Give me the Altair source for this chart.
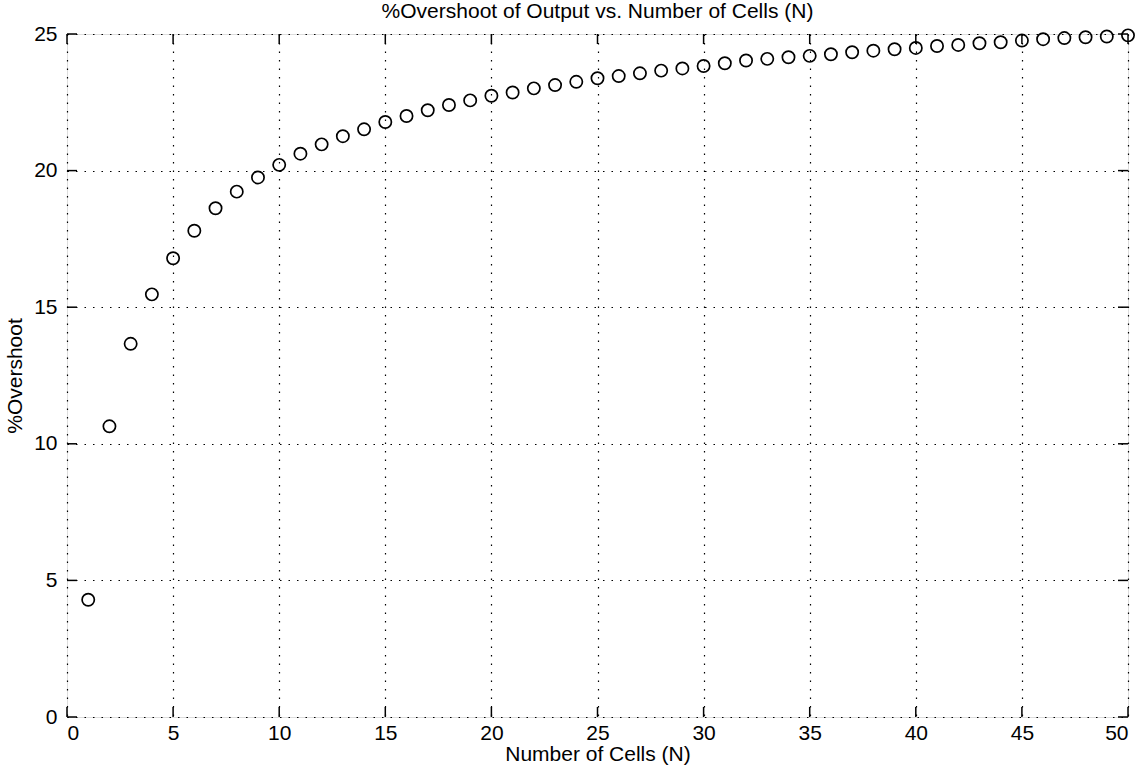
import altair as alt
import pandas as pd

cells = list(range(1, 51))
overshoot = [4.29, 10.64, 13.66, 15.47, 16.79, 17.80, 18.62, 19.23, 19.75, 20.21,
             20.62, 20.96, 21.26, 21.51, 21.78, 22.00, 22.21, 22.40, 22.57, 22.74,
             22.86, 23.01, 23.13, 23.25, 23.38, 23.46, 23.56, 23.66, 23.74, 23.83,
             23.93, 24.03, 24.09, 24.15, 24.20, 24.26, 24.33, 24.39, 24.44, 24.49,
             24.56, 24.60, 24.66, 24.70, 24.76, 24.81, 24.85, 24.88, 24.91, 24.95]
x_ticks = [0, 5, 10, 15, 20, 25, 30, 35, 40, 45, 50]
y_ticks = [0, 5, 10, 15, 20, 25]

W, H = 1061, 683
FONT = "Liberation Sans"

df = pd.DataFrame({"N": cells, "Overshoot": overshoot})
dx = pd.DataFrame({"N": x_ticks})
dy = pd.DataFrame({"Overshoot": y_ticks})

xscale = alt.Scale(domain=[0, 50], nice=False, zero=False)
yscale = alt.Scale(domain=[0, 25], nice=False, zero=False)

xaxis = alt.Axis(values=x_ticks, grid=True, gridColor="#000", gridDash=[1.5, 7],
                 gridWidth=1.2, gridOpacity=1, ticks=False, domain=False,
                 labelFont=FONT, labelFontSize=21, labelColor="#000", labelPadding=5,
                 title="Number of Cells (N)", titleFont=FONT, titleFontSize=21,
                 titleFontWeight="normal", titleColor="#000", titlePadding=0)
yaxis = alt.Axis(values=y_ticks, grid=True, gridColor="#000", gridDash=[1.5, 7],
                 gridWidth=1.2, gridOpacity=1, ticks=False, domain=False,
                 labelFont=FONT, labelFontSize=21, labelColor="#000", labelPadding=10,
                 title="%Overshoot", titleFont=FONT, titleFontSize=21,
                 titleFontWeight="normal", titleColor="#000", titlePadding=8)

points = alt.Chart(df).mark_point(shape="circle", filled=False, size=150,
                                  strokeWidth=1.7, color="#000", opacity=1).encode(
    x=alt.X("N:Q", scale=xscale, axis=xaxis),
    y=alt.Y("Overshoot:Q", scale=yscale, axis=yaxis),
)

tick_len = 10
bottom_ticks = alt.Chart(dx).mark_rule(color="#000", strokeWidth=1.5).encode(
    x=alt.X("N:Q", scale=xscale), y=alt.value(H), y2=alt.value(H - tick_len))
top_ticks = alt.Chart(dx).mark_rule(color="#000", strokeWidth=1.5).encode(
    x=alt.X("N:Q", scale=xscale), y=alt.value(0), y2=alt.value(tick_len))
left_ticks = alt.Chart(dy).mark_rule(color="#000", strokeWidth=1.5).encode(
    y=alt.Y("Overshoot:Q", scale=yscale), x=alt.value(0), x2=alt.value(tick_len))
right_ticks = alt.Chart(dy).mark_rule(color="#000", strokeWidth=1.5).encode(
    y=alt.Y("Overshoot:Q", scale=yscale), x=alt.value(W), x2=alt.value(W - tick_len))

chart = alt.layer(points, bottom_ticks, top_ticks, left_ticks, right_ticks).properties(
    width=W, height=H,
    title=alt.TitleParams("%Overshoot of Output vs. Number of Cells (N)", font=FONT,
                          fontSize=21, fontWeight="normal", color="#000",
                          anchor="middle", offset=1),
    autosize=alt.AutoSizeParams(type="none"),
    padding={"left": 67, "top": 34, "right": 12, "bottom": 51},
).configure_view(stroke="#000", strokeWidth=2).configure(background="white")

chart.save("out.html", embed_options={"renderer": "svg", "actions": False})
